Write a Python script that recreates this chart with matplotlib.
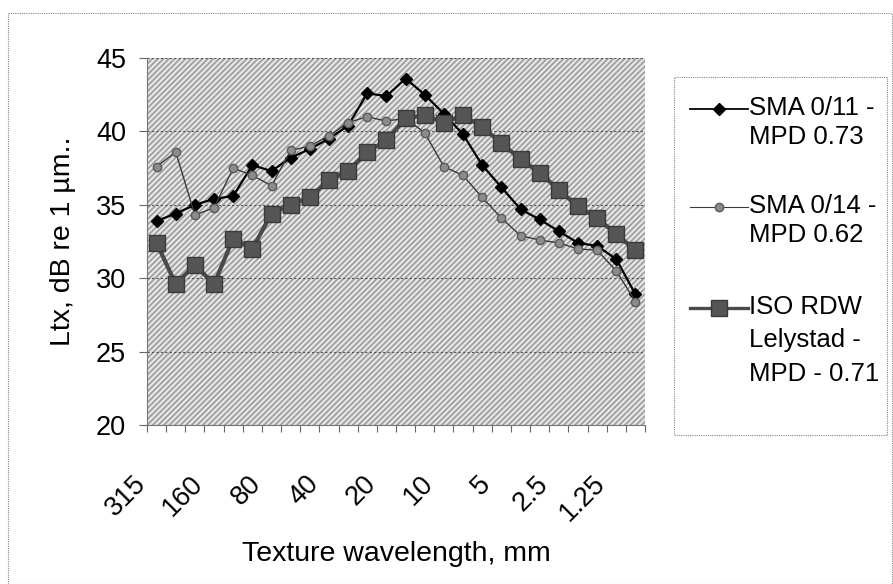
import numpy as np
import matplotlib.pyplot as plt
from matplotlib.patches import Rectangle
from matplotlib.lines import Line2D
from matplotlib.transforms import ScaledTranslation

plt.rcParams['font.family'] = ['Liberation Sans', 'DejaVu Sans']
plt.rcParams['hatch.linewidth'] = 1.2

# third-octave bands, texture wavelength in mm
bands = ['315', '250', '200', '160', '125', '100', '80', '63', '50', '40', '31.5', '25',
         '20', '16', '12.5', '10', '8', '6.3', '5', '4', '3.15', '2.5', '2', '1.6', '1.25', '1']
shown_labels = ['315', '160', '80', '40', '20', '10', '5', '2.5', '1.25']

sma_011 = [33.9, 34.4, 35.0, 35.4, 35.6, 37.7, 37.3, 38.2, 38.8, 39.5, 40.4, 42.6, 42.4,
           43.6, 42.5, 41.2, 39.8, 37.7, 36.2, 34.7, 34.0, 33.2, 32.4, 32.2, 31.3, 28.9]
sma_014 = [37.6, 38.6, 34.3, 34.8, 37.5, 37.0, 36.3, 38.7, 39.0, 39.7, 40.6, 41.0, 40.7,
           40.9, 39.9, 37.6, 37.0, 35.5, 34.1, 32.9, 32.6, 32.4, 32.0, 31.9, 30.5, 28.4]
iso_rdw = [32.4, 29.6, 30.9, 29.6, 32.7, 32.0, 34.4, 35.0, 35.5, 36.7, 37.3, 38.6, 39.4,
           40.9, 41.1, 40.6, 41.1, 40.3, 39.2, 38.1, 37.2, 36.0, 34.9, 34.1, 33.0, 31.9]

labels = ['SMA 0/11 -\nMPD 0.73', 'SMA 0/14 -\nMPD 0.62', 'ISO RDW\nLelystad -\nMPD - 0.71']
styles = [
    dict(color='black', lw=1.6, marker='D', ms=6.5, mfc='black', mec='black'),
    dict(color='#3a3a3a', lw=1.0, marker='o', ms=6, mfc='#8c8c8c', mec='#5a5a5a'),
    dict(color='#4a4a4a', lw=3.0, marker='s', ms=11, mfc='#555555', mec='#3a3a3a'),
]

W, H = 893, 584
FS_TICK = 19.5
FS_TITLE = 20.5
FS_LEG = 18.5
fig = plt.figure(figsize=(W / 100, H / 100), dpi=100)
ax = fig.add_axes([147 / W, 1 - 425 / H, (645 - 147) / W, (425 - 58) / H])

# textured plot area
ax.set_facecolor('#e6e6e6')
ax.add_patch(Rectangle((0, 0), 1, 1, transform=ax.transAxes, facecolor='none',
                       edgecolor='#9c9c9c', hatch='//////', lw=0, zorder=0))

x = np.arange(len(bands))
for vals, st in zip([sma_011, sma_014, iso_rdw], styles):
    ax.plot(x, vals, zorder=3, **st)

ax.set_xlim(-0.5, len(bands) - 0.5)
ax.set_ylim(20, 45)
ax.set_yticks(range(20, 46, 5))
ax.yaxis.grid(True, color='#555555', ls=(0, (2, 2)), lw=0.8)
ax.set_axisbelow(True)

ax.set_xticks([bands.index(b) for b in shown_labels])
ax.set_xticks(np.arange(len(bands) + 1) - 0.5, minor=True)
ax.tick_params(axis='x', which='major', length=0, pad=33, labelsize=FS_TICK)
ax.tick_params(axis='x', which='minor', length=5, color='#666666', width=0.8)
ax.tick_params(axis='y', length=6, color='#666666', width=0.8, labelsize=FS_TICK, pad=9)
ax.set_xticklabels(shown_labels, rotation=45, ha='right', va='top', rotation_mode='anchor')
# Excel puts the rotated labels a little left of the category centre
shift = ScaledTranslation(-24 / 100, 0, fig.dpi_scale_trans)
for t in ax.get_xticklabels():
    t.set_transform(t.get_transform() + shift)

for s in ['top', 'right']:
    ax.spines[s].set_visible(False)
ax.spines['left'].set_color('#777777')
ax.spines['bottom'].set_color('#777777')

ax.set_xlabel('Texture wavelength, mm', fontsize=FS_TITLE, labelpad=10)
ax.set_ylabel('Ltx, dB re 1 µm..', fontsize=FS_TITLE, labelpad=14)

# outer frame
fig.add_artist(Rectangle((8 / W, 0), 1 - 9 / W, 1 - 13 / H, transform=fig.transFigure,
                         facecolor='none', edgecolor='#888888', ls=(0, (1, 1)), lw=0.8))

# legend drawn Excel-style: handle next to the first line of each label
fig.add_artist(Rectangle((674 / W, 1 - 435 / H), (887 - 674) / W, (435 - 77) / H,
                         transform=fig.transFigure, facecolor='white',
                         edgecolor='#888888', ls=(0, (1, 1)), lw=0.8))
entry_y = [109, 207, 308]
entry_spacing = [1.25, 1.25, 1.5]
for lab, st, yy, sp in zip(labels, styles, entry_y, entry_spacing):
    yf = 1 - yy / H
    fig.add_artist(Line2D([690 / W, 748 / W], [yf, yf], transform=fig.transFigure,
                          color=st['color'], lw=st['lw'] * 0.8))
    fig.add_artist(Line2D([719 / W], [yf], transform=fig.transFigure, **st))
    fig.text(749 / W, 1 - (yy - 13) / H, lab, fontsize=FS_LEG, va='top', ha='left',
             linespacing=sp)

fig.savefig('out.png', dpi=100)
